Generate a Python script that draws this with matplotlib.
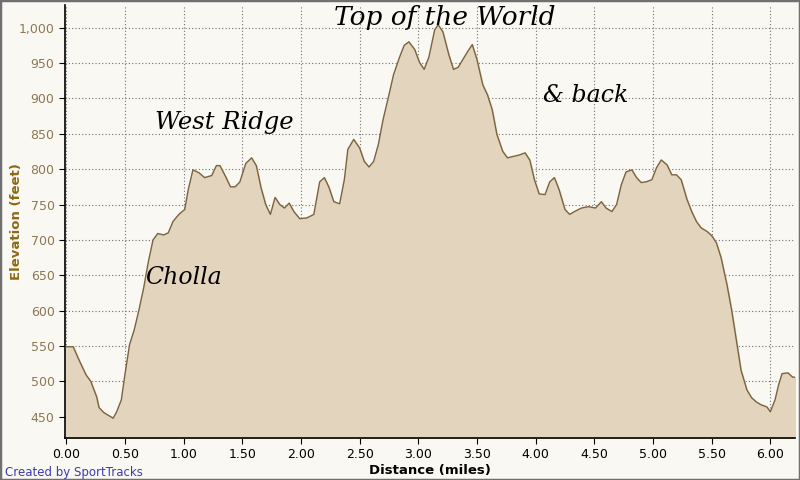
import matplotlib.pyplot as plt
import numpy as np

# distance (miles) and elevation (feet)
dist = [0.00, 0.06, 0.11, 0.17, 0.21, 0.26, 0.28, 0.32, 0.37, 0.40, 0.43, 0.47,
        0.50, 0.54, 0.58, 0.62, 0.66, 0.70, 0.74, 0.78, 0.83, 0.87, 0.91, 0.96,
        1.01, 1.04, 1.08, 1.13, 1.18, 1.24, 1.28, 1.31, 1.36, 1.40, 1.44, 1.48,
        1.53, 1.58, 1.62, 1.66, 1.70, 1.74, 1.78, 1.82, 1.86, 1.90, 1.94, 1.99,
        2.05, 2.11, 2.16, 2.20, 2.24, 2.28, 2.33, 2.37, 2.40, 2.45, 2.50, 2.54,
        2.58, 2.62, 2.66, 2.70, 2.75, 2.79, 2.84, 2.88, 2.92, 2.97, 3.01, 3.05,
        3.09, 3.14, 3.17, 3.21, 3.26, 3.30, 3.34, 3.38, 3.42, 3.46, 3.50, 3.55,
        3.59, 3.63, 3.67, 3.72, 3.76, 3.81, 3.86, 3.91, 3.95, 3.99, 4.03, 4.08,
        4.12, 4.16, 4.20, 4.25, 4.29, 4.33, 4.39, 4.45, 4.51, 4.56, 4.60, 4.65,
        4.69, 4.73, 4.77, 4.82, 4.86, 4.90, 4.94, 4.99, 5.03, 5.07, 5.12, 5.16,
        5.20, 5.24, 5.29, 5.33, 5.37, 5.41, 5.46, 5.50, 5.54, 5.58, 5.63, 5.67,
        5.71, 5.75, 5.80, 5.84, 5.88, 5.92, 5.97, 6.00, 6.04, 6.07, 6.10, 6.15,
        6.19, 6.22]
elev = [549, 549, 530, 509, 500, 478, 463, 456, 451, 448, 457, 474,
        509, 552, 573, 601, 632, 669, 700, 709, 707, 710, 726, 736,
        743, 771, 799, 795, 788, 791, 805, 805, 789, 775, 775, 782,
        808, 816, 805, 774, 750, 736, 760, 750, 745, 752, 740, 730,
        731, 736, 782, 788, 774, 754, 751, 785, 828, 842, 830, 811,
        803, 811, 835, 870, 905, 934, 958, 975, 980, 969, 951, 941,
        958, 997, 1004, 994, 962, 941, 944, 955, 966, 976, 955, 919,
        905, 884, 849, 825, 816, 818, 820, 823, 813, 785, 765, 764,
        782, 788, 771, 743, 736, 740, 745, 747, 745, 754, 745, 740,
        750, 778, 796, 799, 788, 781, 782, 785, 802, 813, 806, 792,
        792, 785, 757, 740, 726, 717, 712, 706, 696, 675, 637, 601,
        559, 516, 488, 477, 471, 467, 464, 457, 474, 495, 511, 512,
        506, 506]

yticks = [450, 500, 550, 600, 650, 700, 750, 800, 850, 900, 950, 1000]
xticks = [0, 0.5, 1, 1.5, 2, 2.5, 3, 3.5, 4, 4.5, 5, 5.5, 6]

labels = ['Top of the World', 'West Ridge', '& back', 'Cholla']
label_pos = [(2.28, 1004), (0.76, 857), (4.06, 895), (0.67, 638)]
label_size = [19, 17.5, 17, 17]

fig = plt.figure(figsize=(8, 4.8), dpi=100, facecolor='#faf8f3')
ax = fig.add_axes([0.08125, 0.0875, 0.9125, 0.9021])
ax.set_facecolor('#faf8f3')

ax.fill_between(dist, elev, 420, color='#e3d4bd', zorder=2)
ax.plot(dist, elev, color='#7a6440', lw=1.0, zorder=3)

ax.set_xlim(-0.01, 6.21)
ax.set_ylim(420, 1032)
ax.set_xticks(xticks)
ax.set_xticklabels(['%.2f' % v for v in xticks])
ax.set_yticks(yticks)
ax.set_yticklabels(['{:,}'.format(v) for v in yticks])
ax.grid(True, ls=(0, (1, 2)), color='#707070', lw=0.8, zorder=4)
ax.tick_params(axis='y', labelsize=9, length=4, color='black', labelcolor='#8c7853')
ax.tick_params(axis='x', labelsize=9, length=4)
for s in ['top', 'right']:
    ax.spines[s].set_visible(False)
ax.spines['left'].set_linewidth(1.2)
ax.spines['bottom'].set_linewidth(1.2)

ax.set_xlabel('Distance (miles)', fontsize=9.5, fontweight='bold', labelpad=2)
ax.set_ylabel('Elevation (feet)', fontsize=9.5, fontweight='bold', color='#8b6914')
ax.yaxis.set_label_coords(-0.058, 0.5)

for t, p, s in zip(labels, label_pos, label_size):
    ax.text(p[0], p[1], t, fontsize=s, style='italic', family='DejaVu Serif', zorder=5)

fig.text(0.006, 0.008, 'Created by SportTracks', color='#3a3ab0', fontsize=8.5)
fig.patches.append(plt.Rectangle((0, 0), 1, 1, transform=fig.transFigure,
                                 fill=False, ec='#707070', lw=2.5))

fig.savefig('out.png', dpi=100, facecolor=fig.get_facecolor())
